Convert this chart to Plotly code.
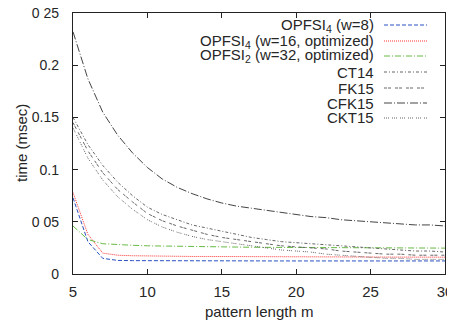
import plotly.graph_objects as go

m = list(range(5, 31))

opfsi4_w8 = [0.073, 0.031, 0.015, 0.013, 0.0128, 0.0127, 0.0126, 0.0126, 0.0125, 0.0125,
             0.0125, 0.0125, 0.0125, 0.0125, 0.0125, 0.0125, 0.0125, 0.0125, 0.0125, 0.0125,
             0.0125, 0.0125, 0.0125, 0.0125, 0.0125, 0.0125]
opfsi4_w16 = [0.078, 0.038, 0.020, 0.018, 0.0175, 0.0172, 0.017, 0.017, 0.0168, 0.0168,
              0.0167, 0.0166, 0.0166, 0.0165, 0.0165, 0.0165, 0.0164, 0.0164, 0.0163, 0.0163,
              0.0163, 0.0162, 0.0162, 0.0162, 0.0161, 0.0161]
opfsi2_w32 = [0.046, 0.033, 0.029, 0.028, 0.0275, 0.027, 0.0267, 0.0265, 0.0263, 0.0261,
              0.026, 0.0258, 0.0256, 0.0255, 0.0254, 0.0253, 0.0252, 0.0251, 0.025, 0.025,
              0.025, 0.0249, 0.0249, 0.0248, 0.0248, 0.0248]
ct14 = [0.150, 0.124, 0.104, 0.088, 0.075, 0.064, 0.057, 0.052, 0.047, 0.044,
        0.041, 0.038, 0.035, 0.033, 0.031, 0.030, 0.029, 0.028, 0.027, 0.026,
        0.025, 0.024, 0.023, 0.022, 0.022, 0.021]
fk15 = [0.145, 0.118, 0.097, 0.081, 0.069, 0.058, 0.051, 0.046, 0.042, 0.038,
        0.035, 0.033, 0.031, 0.029, 0.027, 0.026, 0.025, 0.024, 0.022, 0.021,
        0.020, 0.019, 0.019, 0.018, 0.018, 0.018]
cfk15 = [0.232, 0.187, 0.155, 0.133, 0.116, 0.102, 0.091, 0.083, 0.077, 0.072,
         0.068, 0.065, 0.063, 0.061, 0.059, 0.057, 0.055, 0.054, 0.052, 0.051,
         0.050, 0.049, 0.048, 0.047, 0.047, 0.046]
ckt15 = [0.140, 0.111, 0.090, 0.074, 0.062, 0.052, 0.045, 0.040, 0.036, 0.033,
         0.031, 0.029, 0.027, 0.025, 0.023, 0.022, 0.021, 0.019, 0.018, 0.017,
         0.016, 0.015, 0.015, 0.014, 0.014, 0.014]

series_names = ["OPFSI<sub>4</sub> (w=8)", "OPFSI<sub>4</sub> (w=16, optimized)",
                "OPFSI<sub>2</sub> (w=32, optimized)", "CT14", "FK15", "CFK15", "CKT15"]
series_values = [opfsi4_w8, opfsi4_w16, opfsi2_w32, ct14, fk15, cfk15, ckt15]

x_tickvals = [5, 10, 15, 20, 25, 30]
y_tickvals = [0, 0.05, 0.1, 0.15, 0.2, 0.25]
y_ticktext = ["0", "0 05", "0.1", "0.15", "0.2", "0 25"]
x_title = "pattern length m"
y_title = "time (msec)"

colors = ["#2a50c0", "#ff3030", "#66bb44", "#666666", "#666666", "#444444", "#666666"]
dashes = ["4px,2px", "1px,1px", "6px,2px,1px,2px", "3px,2px,1px,2px",
          "3px,1px,3px,4px", "8px,2px,1px,2px", "1px,1px,1px,1px,1px,3px"]

FONT = "Liberation Sans, Arial, sans-serif"
TXT = "#262626"

fig = go.Figure()
for name, vals, c, d in zip(series_names, series_values, colors, dashes):
    fig.add_trace(go.Scatter(x=m, y=vals, mode="lines", name=name,
                             line=dict(color=c, width=1, dash=d), showlegend=False))

# page has an 8px body margin: figure origin sits at (8, 8) in the window
OFF = 8
W, H = 455 - OFF, 323 - OFF
# plot area in window pixels
L, R, T, B = 73, 445, 13, 274

def px(x):
    return (x - L) / (R - L)

def py(y):
    return (B - y) / (B - T)

legend_rows = [25, 41, 56, 72, 88, 103, 118]
annotations = []
shapes = []
for name, c, d, yy in zip(series_names, colors, dashes, legend_rows):
    annotations.append(dict(x=px(376), y=py(yy), xref="paper", yref="paper",
                            text=name, showarrow=False, xanchor="right", yanchor="middle",
                            font=dict(family=FONT, size=15, color=TXT)))
    shapes.append(dict(type="line", xref="paper", yref="paper",
                       x0=px(384), x1=px(427), y0=py(yy), y1=py(yy),
                       line=dict(color=c, width=1, dash=d)))

# axis titles
annotations.append(dict(x=px(259), y=py(311), xref="paper", yref="paper", text=x_title,
                        showarrow=False, xanchor="center", yanchor="middle",
                        font=dict(family=FONT, size=15, color=TXT)))
annotations.append(dict(x=px(21), y=py(143), xref="paper", yref="paper", text=y_title,
                        showarrow=False, xanchor="center", yanchor="middle", textangle=-90,
                        font=dict(family=FONT, size=15, color=TXT)))

# stray clipped label at far left
annotations.append(dict(x=px(10), y=py(289), xref="paper", yref="paper", text="30",
                        showarrow=False, xanchor="right", yanchor="middle",
                        font=dict(family=FONT, size=15, color=TXT)))

fig.update_layout(
    width=W, height=H,
    margin=dict(l=L - OFF, r=W - (R - OFF), t=T - OFF, b=H - (B - OFF), pad=0),
    paper_bgcolor="white", plot_bgcolor="white",
    font=dict(family=FONT, size=15, color=TXT),
    annotations=annotations, shapes=shapes,
    xaxis=dict(range=[5, 30], tickvals=x_tickvals, ticks="inside", ticklen=5,
               tickcolor="#222", showline=True, linecolor="#222", linewidth=1.3,
               mirror="ticks", showgrid=False, zeroline=False, automargin=False,
               tickfont=dict(size=15), ticklabelstandoff=4,
               ticklabeloverflow="allow"),
    yaxis=dict(range=[0, 0.25], tickvals=y_tickvals, ticktext=y_ticktext,
               ticks="inside", ticklen=5, tickcolor="#222", showline=True,
               linecolor="#222", linewidth=1.3, mirror="ticks", showgrid=False,
               zeroline=False, automargin=False, tickfont=dict(size=14),
               ticklabelstandoff=10, ticklabeloverflow="allow"),
)

fig.write_html("out.html")
